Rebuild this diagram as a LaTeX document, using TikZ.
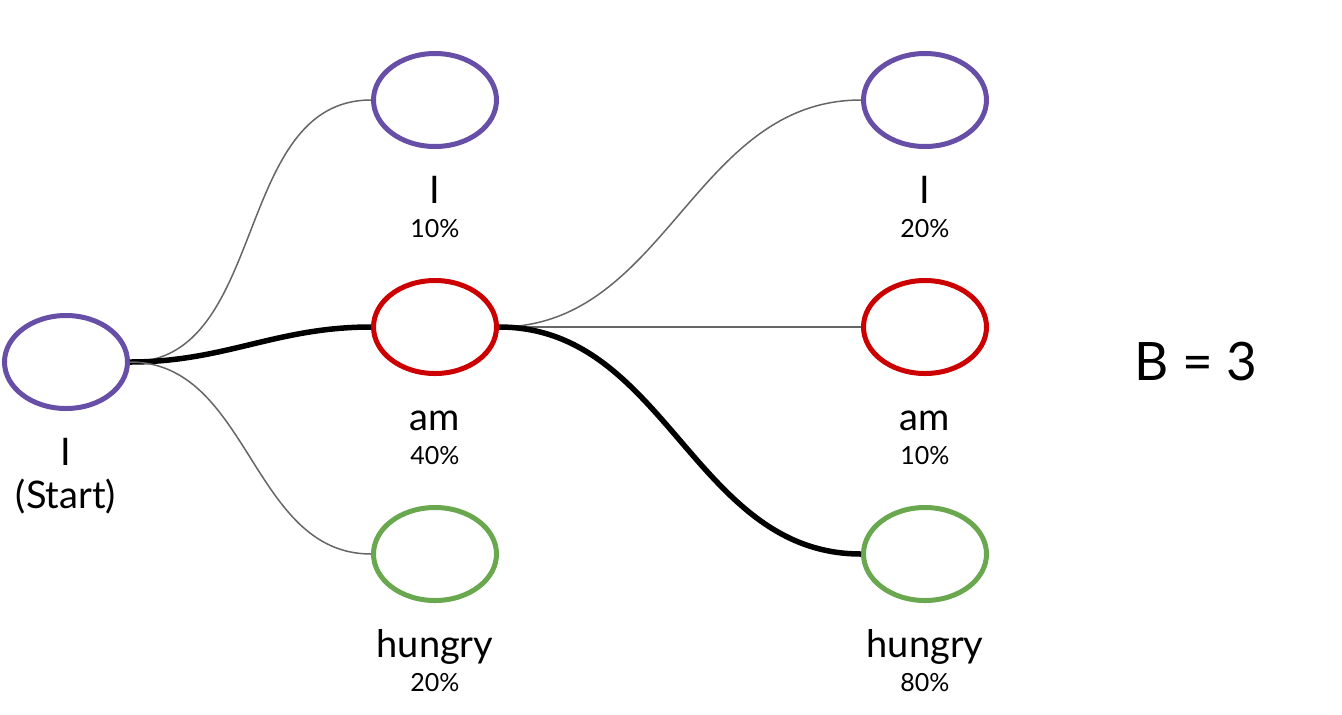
\documentclass[tikz,border=0pt]{standalone}
\usepackage{fontspec}
\setmainfont{Lato}
\usetikzlibrary{shapes.geometric, positioning}
\definecolor{wordpurple}{HTML}{674EA7}
\definecolor{wordred}{HTML}{CC0000}
\definecolor{wordgreen}{HTML}{6AA84F}
\definecolor{branchgray}{HTML}{666666}
\tikzstyle{branch} = [draw=branchgray, line width=0.75pt]
\tikzstyle{beam} = [draw=black, line width=2.75pt]
\tikzstyle{token} = [ellipse, line width=2.5pt, minimum width=61.5pt, minimum height=46.5pt, inner sep=0pt]
\tikzstyle{word} = [anchor=base, inner sep=0pt, font=\fontsize{19}{23}\selectfont]
\tikzstyle{prob} = [anchor=base, inner sep=0pt, font=\fontsize{12.5}{15}\selectfont]

\begin{document}
\begin{tikzpicture}[node distance=113.5pt]
\useasboundingbox (-33pt,-176pt) rectangle (638pt,181pt);
% Placement of beam nodes
\node (start) [token, draw=wordpurple] {};

\node (am1) [token, draw=wordred] at (184.5pt,17.5pt) {};
\node (i1) [token, draw=wordpurple, above of = am1] {};
\node (hungry1) [token, draw=wordgreen, below of = am1] {};

\node (am2) [token, draw=wordred] at (429.5pt,17.5pt) {};
\node (i2) [token, draw=wordpurple, above of = am2] {};
\node (hungry2) [token, draw=wordgreen, below of = am2] {};

% Words and probabilities under the nodes
\node (startWord) [word] at ([yshift=-51.5pt] start.center) {I};
\node (startNote) [word] at ([yshift=-73pt] start.center) {(Start)};

\node (i1Word) [word] at ([yshift=-51.5pt] i1.center) {I};
\node (i1Prob) [prob] at ([yshift=-68.5pt] i1.center) {10\%};
\node (am1Word) [word] at ([yshift=-51.5pt] am1.center) {am};
\node (am1Prob) [prob] at ([yshift=-68.5pt] am1.center) {40\%};
\node (hungry1Word) [word] at ([yshift=-51.5pt] hungry1.center) {hungry};
\node (hungry1Prob) [prob] at ([yshift=-68.5pt] hungry1.center) {20\%};

\node (i2Word) [word] at ([yshift=-51.5pt] i2.center) {I};
\node (i2Prob) [prob] at ([yshift=-68.5pt] i2.center) {20\%};
\node (am2Word) [word] at ([yshift=-51.5pt] am2.center) {am};
\node (am2Prob) [prob] at ([yshift=-68.5pt] am2.center) {10\%};
\node (hungry2Word) [word] at ([yshift=-51.5pt] hungry2.center) {hungry};
\node (hungry2Prob) [prob] at ([yshift=-68.5pt] hungry2.center) {80\%};

\node (beamWidth) [anchor=base, inner sep=0pt, font=\fontsize{26.5}{32}\selectfont] at (565pt,-9pt) {B = 3};

% Drawing of branches, best path thick
\draw [branch] (start.east) to[out=0, in=180] (i1.west);
\draw [beam] (start.east) to[out=0, in=180] (am1.west);
\draw [branch] (start.east) to[out=0, in=180] (hungry1.west);
\draw [branch] (am1.east) to[out=0, in=180] (i2.west);
\draw [branch] (am1.east) -- (am2.west);
\draw [beam] (am1.east) to[out=0, in=180] (hungry2.west);

\end{tikzpicture}
\end{document}
